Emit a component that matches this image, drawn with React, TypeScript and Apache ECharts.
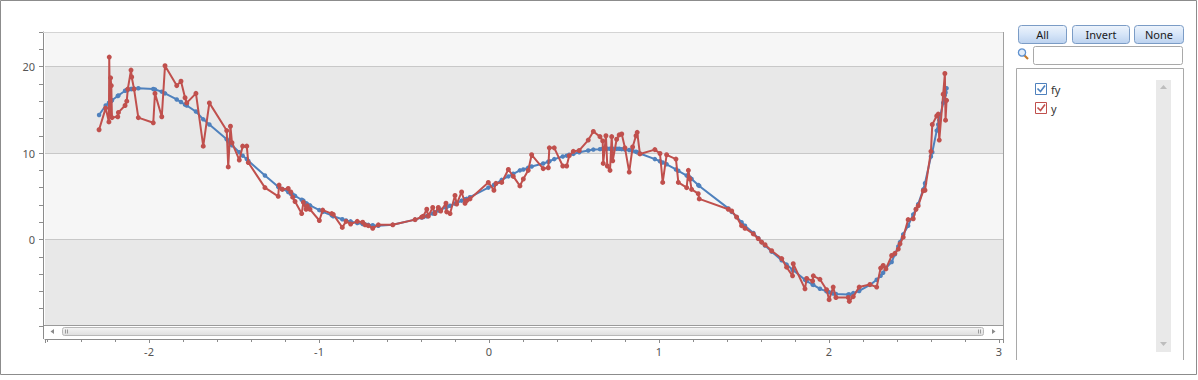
import React, { useEffect, useRef } from 'react';
import * as echarts from 'echarts';

// x values (shared by both series)
const xs = [
  -2.294, -2.255, -2.236, -2.234, -2.23, -2.226, -2.222, -2.218, -2.184, -2.18,
  -2.141, -2.131, -2.125, -2.106, -2.102, -2.088, -2.063, -1.975, -1.965, -1.925,
  -1.906, -1.837, -1.812, -1.788, -1.778, -1.724, -1.681, -1.645, -1.543, -1.534,
  -1.521, -1.512, -1.469, -1.449, -1.425, -1.416, -1.318, -1.24, -1.235, -1.216,
  -1.181, -1.166, -1.155, -1.141, -1.102, -1.092, -1.076, -1.069, -1.053, -0.998,
  -0.978, -0.925, -0.916, -0.863, -0.841, -0.814, -0.775, -0.743, -0.729, -0.71,
  -0.684, -0.651, -0.566, -0.435, -0.396, -0.386, -0.366, -0.357, -0.331, -0.318,
  -0.298, -0.284, -0.253, -0.249, -0.229, -0.2, -0.19, -0.161, -0.141, -0.131,
  -0.112, -0.004, 0.029, 0.041, 0.075, 0.114, 0.143, 0.182, 0.202, 0.231,
  0.251, 0.319, 0.349, 0.355, 0.384, 0.434, 0.457, 0.472, 0.496, 0.531,
  0.584, 0.614, 0.653, 0.669, 0.672, 0.688, 0.696, 0.712, 0.722, 0.728,
  0.751, 0.766, 0.781, 0.8, 0.825, 0.845, 0.865, 0.872, 0.888, 0.976,
  1.006, 1.022, 1.045, 1.1, 1.114, 1.163, 1.173, 1.182, 1.192, 1.231,
  1.237, 1.408, 1.428, 1.457, 1.486, 1.506, 1.555, 1.584, 1.604, 1.624,
  1.663, 1.722, 1.751, 1.786, 1.79, 1.859, 1.869, 1.904, 1.908, 1.947,
  1.986, 2.001, 2.025, 2.041, 2.114, 2.12, 2.143, 2.178, 2.241, 2.281,
  2.304, 2.319, 2.335, 2.369, 2.388, 2.408, 2.418, 2.437, 2.466, 2.496,
  2.512, 2.525, 2.555, 2.565, 2.6, 2.608, 2.634, 2.643, 2.649, 2.672,
  2.682, 2.686, 2.692,
];

// smooth model curve "fy"
const fy = [
  14.4, 15.5, 15.8, 15.8, 15.9, 16.0, 16.05, 16.1, 16.6, 16.65,
  17.2, 17.3, 17.3, 17.4, 17.4, 17.45, 17.5, 17.4, 17.35, 17.1,
  16.9, 16.2, 15.9, 15.6, 15.5, 14.8, 13.9, 13.3, 11.6, 11.4,
  11.1, 10.9, 10.1, 9.7, 9.3, 9.1, 7.4, 6.1, 6.05, 5.85,
  5.5, 5.3, 5.2, 5.05, 4.6, 4.5, 4.2, 4.1, 3.95, 3.4,
  3.2, 2.8, 2.7, 2.35, 2.2, 2.1, 1.9, 1.8, 1.75, 1.7,
  1.65, 1.6, 1.7, 2.3, 2.55, 2.6, 2.7, 2.8, 3.0, 3.15,
  3.35, 3.45, 3.7, 3.75, 3.9, 4.15, 4.2, 4.5, 4.65, 4.7,
  4.9, 6.0, 6.3, 6.45, 6.9, 7.3, 7.6, 8.0, 8.1, 8.3,
  8.45, 8.8, 9.0, 9.05, 9.3, 9.6, 9.7, 9.8, 9.9, 10.1,
  10.3, 10.4, 10.45, 10.5, 10.5, 10.5, 10.5, 10.5, 10.5, 10.5,
  10.5, 10.5, 10.45, 10.4, 10.35, 10.25, 10.15, 10.1, 9.95, 9.3,
  9.05, 8.9, 8.7, 8.1, 7.95, 7.4, 7.3, 7.15, 7.0, 6.3,
  6.2, 3.6, 3.2, 2.6, 2.0, 1.6, 0.75, 0.15, -0.3, -0.7,
  -1.4, -2.4, -2.9, -3.5, -3.55, -4.65, -4.8, -5.2, -5.25, -5.7,
  -6.0, -6.1, -6.25, -6.3, -6.35, -6.35, -6.2, -5.95, -5.25, -4.65,
  -4.2, -3.85, -3.3, -2.6, -1.7, -0.8, -0.3, 0.6, 1.6, 2.9,
  3.5, 4.1, 5.8, 6.5, 9.6, 10.1, 12.6, 13.3, 13.8, 15.8,
  16.7, 17.0, 17.5,
];

// noisy observations "y"
const y = [
  12.7, 15.2, 13.6, 21.1, 14.5, 18.7, 17.8, 14.1, 14.2, 14.7,
  15.5, 16.0, 17.4, 19.6, 18.8, 17.4, 14.1, 13.5, 16.9, 14.2,
  20.1, 17.8, 18.3, 16.4, 15.8, 16.9, 10.8, 15.8, 12.6, 8.4,
  13.1, 11.2, 9.2, 10.8, 10.8, 8.9, 6.0, 5.0, 6.3, 5.8,
  5.9, 5.5, 4.9, 4.4, 3.0, 4.3, 3.5, 3.9, 3.5, 2.2,
  3.4, 3.0, 2.9, 1.4, 2.1, 1.8, 2.1, 2.0, 1.7, 1.6,
  1.3, 1.7, 1.7, 2.3, 2.6, 2.7, 3.5, 2.7, 3.7, 3.0,
  3.7, 3.3, 4.2, 3.2, 3.0, 5.1, 4.1, 5.5, 4.2, 4.5,
  4.7, 6.6, 5.7, 6.5, 6.6, 8.1, 7.3, 6.2, 7.0, 8.0,
  9.8, 8.2, 8.3, 10.6, 10.6, 8.5, 8.5, 9.7, 10.2, 10.3,
  11.5, 12.5, 11.9, 11.4, 8.8, 12.0, 8.5, 8.0, 11.9, 9.1,
  11.6, 12.1, 12.2, 10.6, 7.8, 10.7, 12.0, 12.4, 9.9, 10.4,
  9.95, 6.6, 9.8, 9.3, 6.6, 6.0, 8.0, 7.0, 5.8, 5.3,
  4.7, 3.5, 3.3, 2.6, 1.6, 1.3, 0.65, 0.1, -0.3, -0.6,
  -1.3, -2.2, -3.2, -4.2, -2.8, -5.7, -4.5, -4.8, -4.2, -4.6,
  -5.8, -6.95, -5.5, -6.7, -6.7, -7.15, -6.6, -5.5, -5.2, -5.5,
  -3.3, -3.0, -3.4, -1.85, -1.6, -1.1, -0.5, 0.27, 2.3, 2.4,
  3.5, 3.9, 5.65, 5.7, 10.2, 13.3, 14.3, 14.5, 11.5, 16.8,
  19.2, 13.8, 16.1,
];

const seriesNames = ['fy', 'y'];
const seriesColors = ['#4f81bd', '#c0504d'];
const buttonLabels = ['All', 'Invert', 'None'];
const yTickLabels = [0, 10, 20];

const FONT = '"Noto Sans", "Open Sans", "DejaVu Sans", sans-serif';

export default function App() {
  const ref = useRef<HTMLDivElement>(null);

  useEffect(() => {
    document.body.style.margin = '0';
    const chart = echarts.init(ref.current!, null, { renderer: 'svg' });

    const fyData = xs.map((x, i) => [x, fy[i]]);
    const yData = xs.map((x, i) => [x, y[i]]);

    const btnX = [1018, 1072, 1134];
    const btnW = [48, 57, 49];

    const graphics: any[] = [
      // outer frame
      { type: 'rect', shape: { x: 0.5, y: 0.5, width: 1196, height: 374 }, style: { fill: 'none', stroke: '#8c8c8c', lineWidth: 1 }, z: 100, silent: true },
      // plot frame top
      { type: 'line', shape: { x1: 43, y1: 32.5, x2: 1003, y2: 32.5 }, style: { stroke: '#d4d4d4', lineWidth: 1 }, z: 100 },
      // plot frame right
      { type: 'line', shape: { x1: 1003.5, y1: 32, x2: 1003.5, y2: 339 }, style: { stroke: '#a0a0a0', lineWidth: 1 }, z: 100 },
      // left axis extension over scrollbar
      { type: 'line', shape: { x1: 43.5, y1: 325, x2: 43.5, y2: 339 }, style: { stroke: '#8c8c8c', lineWidth: 1 }, z: 100 },
      // scrollbar background
      { type: 'rect', shape: { x: 44, y: 326, width: 959, height: 13 }, style: { fill: '#ffffff' }, z: 90 },
      { type: 'line', shape: { x1: 44, y1: 325.5, x2: 1003, y2: 325.5 }, style: { stroke: '#9a9a9a', lineWidth: 1 }, z: 100 },
      // scroll arrows
      { type: 'polygon', shape: { points: [[54, 329], [54, 334], [50.5, 331.5]] }, style: { fill: '#8a8a8a' }, z: 100 },
      { type: 'polygon', shape: { points: [[992, 329], [992, 334], [995.5, 331.5]] }, style: { fill: '#8a8a8a' }, z: 100 },
      // thumb
      {
        type: 'rect', shape: { x: 62.5, y: 327.5, width: 921, height: 8, r: 2 },
        style: {
          fill: new echarts.graphic.LinearGradient(0, 0, 0, 1, [
            { offset: 0, color: '#f4f4f4' }, { offset: 1, color: '#dedede' },
          ]),
          stroke: '#b8b8b8', lineWidth: 1,
        }, z: 100,
      },
      { type: 'line', shape: { x1: 65.5, y1: 329.5, x2: 65.5, y2: 333.5 }, style: { stroke: '#9a9a9a' }, z: 101 },
      { type: 'line', shape: { x1: 67.5, y1: 329.5, x2: 67.5, y2: 333.5 }, style: { stroke: '#9a9a9a' }, z: 101 },
      { type: 'line', shape: { x1: 978.5, y1: 329.5, x2: 978.5, y2: 333.5 }, style: { stroke: '#9a9a9a' }, z: 101 },
      { type: 'line', shape: { x1: 980.5, y1: 329.5, x2: 980.5, y2: 333.5 }, style: { stroke: '#9a9a9a' }, z: 101 },
    ];

    // buttons
    buttonLabels.forEach((label, i) => {
      graphics.push({
        type: 'rect', shape: { x: btnX[i] + 0.5, y: 25.5, width: btnW[i], height: 18, r: 3 },
        style: {
          fill: new echarts.graphic.LinearGradient(0, 0, 0, 1, [
            { offset: 0, color: '#eef4fc' }, { offset: 0.5, color: '#d6e5f8' }, { offset: 1, color: '#bcd2ef' },
          ]),
          stroke: '#7b9cc6', lineWidth: 1,
        }, z: 100,
      });
      graphics.push({
        type: 'text', x: btnX[i] + btnW[i] / 2 + 0.5, y: 34.5,
        style: { text: label, fill: '#1a1a1a', font: `11px ${FONT}`, textAlign: 'center', textVerticalAlign: 'middle' },
        z: 101,
      });
    });

    // search icon + box
    graphics.push(
      { type: 'line', shape: { x1: 1024, y1: 55, x2: 1028, y2: 59 }, style: { stroke: '#c47a2c', lineWidth: 2.2 }, z: 100 },
      { type: 'circle', shape: { cx: 1022, cy: 52.5, r: 3.6 }, style: { fill: '#e3eefb', stroke: '#5f91cf', lineWidth: 1.3 }, z: 101 },
      { type: 'rect', shape: { x: 1033.5, y: 46.5, width: 149, height: 18, r: 2 }, style: { fill: '#ffffff', stroke: '#a9a9a9', lineWidth: 1 }, z: 100 },
    );

    // listbox borders (left, top, right)
    graphics.push(
      { type: 'polyline', shape: { points: [[1016.5, 360], [1016.5, 68.5], [1183.5, 68.5], [1183.5, 360]] }, style: { fill: 'none', stroke: '#a9a9a9', lineWidth: 1 }, z: 100 },
      // inner scrollbar
      { type: 'rect', shape: { x: 1156, y: 80, width: 15, height: 272 }, style: { fill: '#e9e9e9' }, z: 100 },
      { type: 'polygon', shape: { points: [[1160, 89], [1167, 89], [1163.5, 85]] }, style: { fill: '#bdbdbd' }, z: 101 },
      { type: 'polygon', shape: { points: [[1160, 342], [1167, 342], [1163.5, 346]] }, style: { fill: '#bdbdbd' }, z: 101 },
    );

    // legend checkboxes
    seriesNames.forEach((name, i) => {
      const cy = 83 + i * 19;
      const c = seriesColors[i];
      graphics.push(
        { type: 'rect', shape: { x: 1035.5, y: cy + 0.5, width: 11, height: 11 }, style: { fill: '#ffffff', stroke: c, lineWidth: 1 }, z: 100 },
        { type: 'polyline', shape: { points: [[1037.5, cy + 5.5], [1040.5, cy + 8.5], [1045, cy + 2.5]] }, style: { fill: 'none', stroke: c, lineWidth: 1.6 }, z: 101 },
        { type: 'text', x: 1051, y: cy + 6, style: { text: name, fill: '#333', font: `11px ${FONT}`, textAlign: 'left', textVerticalAlign: 'middle' }, z: 101 },
      );
    });

    chart.setOption({
      animation: false,
      backgroundColor: '#ffffff',
      grid: { left: 45, right: 195, top: 32, bottom: 54, containLabel: false },
      xAxis: {
        type: 'value',
        min: -2.612,
        max: 3.024,
        splitNumber: 5,
        offset: 13,
        axisLine: { show: true, onZero: false, lineStyle: { color: '#8c8c8c', width: 1 } },
        axisTick: { show: true, length: 4, lineStyle: { color: '#8c8c8c' } },
        minorTick: { show: true, splitNumber: 5, length: 3, lineStyle: { color: '#8c8c8c' } },
        splitLine: { show: false },
        axisLabel: {
          color: '#555',
          fontSize: 11,
          fontFamily: FONT,
          margin: 7,
          formatter: (v: number) => (Math.abs(v - Math.round(v)) < 1e-9 ? String(Math.round(v)) : ''),
        },
      },
      yAxis: {
        type: 'value',
        min: -10,
        max: 24,
        interval: 10,
        offset: 2,
        axisLine: { show: true, onZero: false, lineStyle: { color: '#8c8c8c', width: 1 } },
        axisTick: { show: true, length: 4, lineStyle: { color: '#8c8c8c' } },
        minorTick: { show: true, splitNumber: 5, length: 4, lineStyle: { color: '#8c8c8c' } },
        splitLine: { show: true, lineStyle: { color: '#c8c8c8', width: 1 } },
        splitArea: { show: true, areaStyle: { color: ['#e8e8e8', '#f6f6f6'] } },
        axisLabel: {
          color: '#555',
          fontSize: 11,
          fontFamily: FONT,
          margin: 8,
          formatter: (v: number) => (yTickLabels.includes(v) ? String(v) : ''),
        },
      },
      graphic: { elements: graphics },
      series: [
        {
          name: seriesNames[0],
          type: 'line',
          data: fyData,
          symbol: 'circle',
          symbolSize: 4.5,
          showSymbol: true,
          itemStyle: { color: seriesColors[0] },
          lineStyle: { color: seriesColors[0], width: 2 },
          z: 3,
        },
        {
          name: seriesNames[1],
          type: 'line',
          data: yData,
          symbol: 'circle',
          symbolSize: 5,
          showSymbol: true,
          itemStyle: { color: seriesColors[1] },
          lineStyle: { color: seriesColors[1], width: 2 },
          z: 4,
        },
      ],
    });

    return () => chart.dispose();
  }, []);

  return <div ref={ref} style={{ width: 1198, height: 380 }} />;
}
